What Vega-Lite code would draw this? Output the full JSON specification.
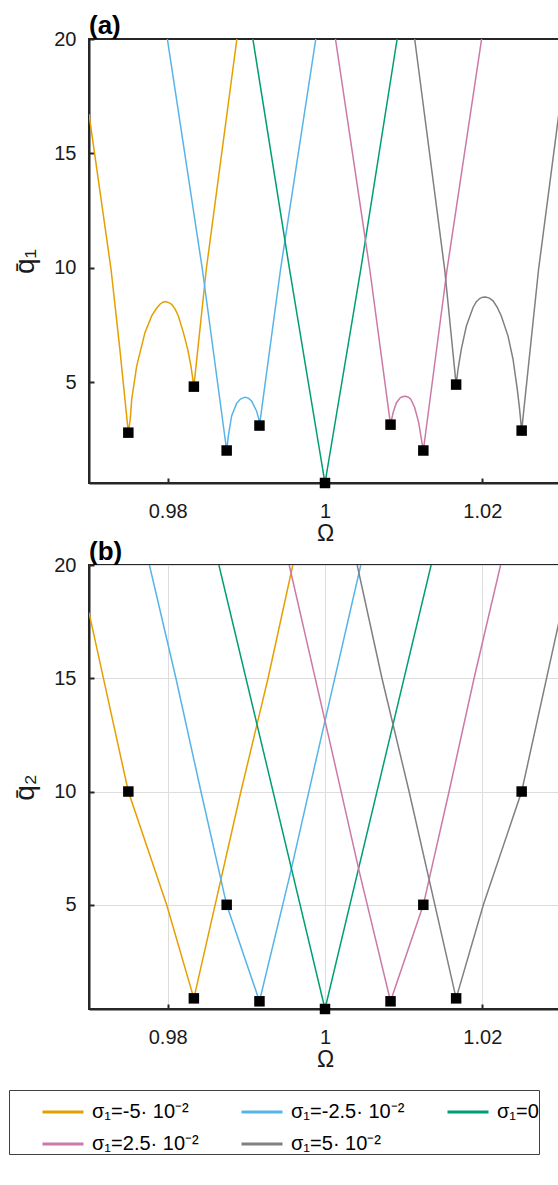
{
  "$schema": "https://vega.github.io/schema/vega-lite/v6.json",
  "background": "white",
  "padding": {"left": 8, "top": 12, "right": 0, "bottom": 10},
  "bounds": "flush",
  "spacing": 82,
  "config": {
    "font": "Liberation Sans",
    "view": {"stroke": "#262626", "strokeWidth": 2},
    "axis": {
      "domainColor": "#262626", "domainWidth": 2,
      "tickColor": "#262626", "tickWidth": 2, "tickSize": -5,
      "labelFont": "Liberation Sans", "labelFontSize": 20, "labelColor": "#1a1a1a",
      "titleFont": "Liberation Sans", "titleFontSize": 23, "titleFontWeight": "normal", "titleColor": "#1a1a1a",
      "gridColor": "#dddddd", "gridWidth": 1
    },
    "title": {"anchor": "start", "frame": "group", "font": "Liberation Sans", "fontSize": 26, "fontWeight": "bold", "color": "black", "offset": -10},
    "legend": {
      "orient": "none", "legendX": -80, "legendY": 1051,
      "direction": "horizontal", "columns": 3,
      "symbolType": "stroke", "symbolSize": 1681, "symbolStrokeWidth": 3, "symbolOffset": 32,
      "labelFont": "Liberation Sans", "labelFontSize": 20, "labelColor": "black", "labelOffset": 7,
      "columnPadding": 9, "rowPadding": -2, "padding": 0,
      "strokeColor": "#404040", "fillColor": "white"
    }
  },
  "datasets": {
    "curves": [
      {"p": "a", "s": -5, "w": 0.970, "q": 16.72},
      {"p": "a", "s": -5, "w": 0.9728, "q": 9.94},
      {"p": "a", "s": -5, "w": 0.97392, "q": 6.45},
      {"p": "a", "s": -5, "w": 0.975, "q": 2.80},
      {"p": "a", "s": -5, "w": 0.97524, "q": 3.38},
      {"p": "a", "s": -5, "w": 0.97543, "q": 4.26},
      {"p": "a", "s": -5, "w": 0.97606, "q": 5.71},
      {"p": "a", "s": -5, "w": 0.97712, "q": 7.18},
      {"p": "a", "s": -5, "w": 0.97797, "q": 7.90},
      {"p": "a", "s": -5, "w": 0.9785, "q": 8.19},
      {"p": "a", "s": -5, "w": 0.97902, "q": 8.41},
      {"p": "a", "s": -5, "w": 0.97934, "q": 8.49},
      {"p": "a", "s": -5, "w": 0.97966, "q": 8.53},
      {"p": "a", "s": -5, "w": 0.98008, "q": 8.49},
      {"p": "a", "s": -5, "w": 0.98051, "q": 8.41},
      {"p": "a", "s": -5, "w": 0.98095, "q": 8.20},
      {"p": "a", "s": -5, "w": 0.98136, "q": 7.90},
      {"p": "a", "s": -5, "w": 0.98199, "q": 7.18},
      {"p": "a", "s": -5, "w": 0.98254, "q": 6.45},
      {"p": "a", "s": -5, "w": 0.98296, "q": 5.71},
      {"p": "a", "s": -5, "w": 0.98333, "q": 4.81},
      {"p": "a", "s": -5, "w": 0.98491, "q": 9.94},
      {"p": "a", "s": -5, "w": 0.9888, "q": 20},

      {"p": "a", "s": -2.5, "w": 0.97996, "q": 20},
      {"p": "a", "s": -2.5, "w": 0.98441, "q": 9.94},
      {"p": "a", "s": -2.5, "w": 0.9875, "q": 2.02},
      {"p": "a", "s": -2.5, "w": 0.98771, "q": 2.65},
      {"p": "a", "s": -2.5, "w": 0.98813, "q": 3.53},
      {"p": "a", "s": -2.5, "w": 0.98876, "q": 4.08},
      {"p": "a", "s": -2.5, "w": 0.98925, "q": 4.27},
      {"p": "a", "s": -2.5, "w": 0.98982, "q": 4.35},
      {"p": "a", "s": -2.5, "w": 0.99025, "q": 4.31},
      {"p": "a", "s": -2.5, "w": 0.99067, "q": 4.18},
      {"p": "a", "s": -2.5, "w": 0.9913, "q": 3.75},
      {"p": "a", "s": -2.5, "w": 0.99159, "q": 3.38},
      {"p": "a", "s": -2.5, "w": 0.99167, "q": 3.11},
      {"p": "a", "s": -2.5, "w": 0.99435, "q": 9.94},
      {"p": "a", "s": -2.5, "w": 0.99883, "q": 20},

      {"p": "a", "s": 0, "w": 0.99083, "q": 20},
      {"p": "a", "s": 0, "w": 0.99549, "q": 9.94},
      {"p": "a", "s": 0, "w": 1.0, "q": 0.6},
      {"p": "a", "s": 0, "w": 1.00455, "q": 9.94},
      {"p": "a", "s": 0, "w": 1.00917, "q": 20},

      {"p": "a", "s": 2.5, "w": 1.00133, "q": 20},
      {"p": "a", "s": 2.5, "w": 1.00569, "q": 9.94},
      {"p": "a", "s": 2.5, "w": 1.00833, "q": 3.15},
      {"p": "a", "s": 2.5, "w": 1.00866, "q": 3.68},
      {"p": "a", "s": 2.5, "w": 1.00908, "q": 4.11},
      {"p": "a", "s": 2.5, "w": 1.00959, "q": 4.33},
      {"p": "a", "s": 2.5, "w": 1.00992, "q": 4.38},
      {"p": "a", "s": 2.5, "w": 1.01026, "q": 4.39},
      {"p": "a", "s": 2.5, "w": 1.0106, "q": 4.35},
      {"p": "a", "s": 2.5, "w": 1.0109, "q": 4.26},
      {"p": "a", "s": 2.5, "w": 1.0114, "q": 3.90},
      {"p": "a", "s": 2.5, "w": 1.01191, "q": 3.24},
      {"p": "a", "s": 2.5, "w": 1.01226, "q": 2.51},
      {"p": "a", "s": 2.5, "w": 1.0125, "q": 2.02},
      {"p": "a", "s": 2.5, "w": 1.01552, "q": 9.94},
      {"p": "a", "s": 2.5, "w": 1.01991, "q": 20},

      {"p": "a", "s": 5, "w": 1.0114, "q": 20},
      {"p": "a", "s": 5, "w": 1.01521, "q": 9.94},
      {"p": "a", "s": 5, "w": 1.01667, "q": 4.90},
      {"p": "a", "s": 5, "w": 1.01691, "q": 5.57},
      {"p": "a", "s": 5, "w": 1.01733, "q": 6.45},
      {"p": "a", "s": 5, "w": 1.01797, "q": 7.46},
      {"p": "a", "s": 5, "w": 1.01882, "q": 8.27},
      {"p": "a", "s": 5, "w": 1.01924, "q": 8.52},
      {"p": "a", "s": 5, "w": 1.01966, "q": 8.66},
      {"p": "a", "s": 5, "w": 1.02004, "q": 8.72},
      {"p": "a", "s": 5, "w": 1.02042, "q": 8.73},
      {"p": "a", "s": 5, "w": 1.0209, "q": 8.68},
      {"p": "a", "s": 5, "w": 1.02136, "q": 8.56},
      {"p": "a", "s": 5, "w": 1.0219, "q": 8.27},
      {"p": "a", "s": 5, "w": 1.02241, "q": 7.90},
      {"p": "a", "s": 5, "w": 1.02326, "q": 7.03},
      {"p": "a", "s": 5, "w": 1.0239, "q": 6.01},
      {"p": "a", "s": 5, "w": 1.02444, "q": 4.70},
      {"p": "a", "s": 5, "w": 1.02474, "q": 3.82},
      {"p": "a", "s": 5, "w": 1.025, "q": 2.89},
      {"p": "a", "s": 5, "w": 1.02715, "q": 9.94},
      {"p": "a", "s": 5, "w": 1.02978, "q": 16.87},
      {"p": "a", "s": 5, "w": 1.03, "q": 17.0},

      {"p": "b", "s": -5, "w": 0.970, "q": 17.9},
      {"p": "b", "s": -5, "w": 0.975, "q": 10.0},
      {"p": "b", "s": -5, "w": 0.97987, "q": 5.0},
      {"p": "b", "s": -5, "w": 0.98333, "q": 0.87},
      {"p": "b", "s": -5, "w": 0.98931, "q": 10.0},
      {"p": "b", "s": -5, "w": 0.99276, "q": 15.0},
      {"p": "b", "s": -5, "w": 0.99591, "q": 20},

      {"p": "b", "s": -2.5, "w": 0.97768, "q": 20},
      {"p": "b", "s": -2.5, "w": 0.98105, "q": 15},
      {"p": "b", "s": -2.5, "w": 0.98423, "q": 10},
      {"p": "b", "s": -2.5, "w": 0.9875, "q": 5.0},
      {"p": "b", "s": -2.5, "w": 0.99167, "q": 0.74},
      {"p": "b", "s": -2.5, "w": 0.99562, "q": 6.43},
      {"p": "b", "s": -2.5, "w": 0.99956, "q": 12.46},
      {"p": "b", "s": -2.5, "w": 1.00455, "q": 20},

      {"p": "b", "s": 0, "w": 0.98651, "q": 20},
      {"p": "b", "s": 0, "w": 1.0, "q": 0.4},
      {"p": "b", "s": 0, "w": 1.01349, "q": 20},

      {"p": "b", "s": 2.5, "w": 0.99545, "q": 20},
      {"p": "b", "s": 2.5, "w": 1.00044, "q": 12.46},
      {"p": "b", "s": 2.5, "w": 1.00438, "q": 6.43},
      {"p": "b", "s": 2.5, "w": 1.00833, "q": 0.74},
      {"p": "b", "s": 2.5, "w": 1.0125, "q": 5.0},
      {"p": "b", "s": 2.5, "w": 1.01577, "q": 10},
      {"p": "b", "s": 2.5, "w": 1.01895, "q": 15},
      {"p": "b", "s": 2.5, "w": 1.02232, "q": 20},

      {"p": "b", "s": 5, "w": 1.00409, "q": 20},
      {"p": "b", "s": 5, "w": 1.00724, "q": 15},
      {"p": "b", "s": 5, "w": 1.01069, "q": 10},
      {"p": "b", "s": 5, "w": 1.01667, "q": 0.87},
      {"p": "b", "s": 5, "w": 1.02013, "q": 5.0},
      {"p": "b", "s": 5, "w": 1.025, "q": 10.0},
      {"p": "b", "s": 5, "w": 1.03, "q": 17.9}
    ],
    "minima": [
      {"p": "a", "w": 0.975, "q": 2.80},
      {"p": "a", "w": 0.98333, "q": 4.81},
      {"p": "a", "w": 0.9875, "q": 2.02},
      {"p": "a", "w": 0.99167, "q": 3.11},
      {"p": "a", "w": 1.0, "q": 0.6},
      {"p": "a", "w": 1.00833, "q": 3.15},
      {"p": "a", "w": 1.0125, "q": 2.02},
      {"p": "a", "w": 1.01667, "q": 4.90},
      {"p": "a", "w": 1.025, "q": 2.89},
      {"p": "b", "w": 0.975, "q": 10.0},
      {"p": "b", "w": 0.98333, "q": 0.87},
      {"p": "b", "w": 0.9875, "q": 5.0},
      {"p": "b", "w": 0.99167, "q": 0.74},
      {"p": "b", "w": 1.0, "q": 0.4},
      {"p": "b", "w": 1.00833, "q": 0.74},
      {"p": "b", "w": 1.0125, "q": 5.0},
      {"p": "b", "w": 1.01667, "q": 0.87},
      {"p": "b", "w": 1.025, "q": 10.0}
    ]
  },
  "resolve": {"scale": {"color": "shared"}, "legend": {"color": "shared"}},
  "vconcat": [
    {
      "title": {"text": "(a)"},
      "width": 472,
      "height": 444,
      "layer": [
        {
          "data": {"name": "curves"},
          "transform": [{"filter": "datum.p == 'a'"}],
          "mark": {"type": "line", "strokeWidth": 1.5, "clip": true},
          "encoding": {
            "x": {"field": "w", "type": "quantitative",
                  "scale": {"domain": [0.97, 1.03], "nice": false, "zero": false},
                  "axis": {"values": [0.98, 1, 1.02], "format": "~g", "title": "Ω", "grid": false, "labelPadding": 23, "titlePadding": 1}},
            "y": {"field": "q", "type": "quantitative",
                  "scale": {"domain": [0.6, 20], "nice": false, "zero": false},
                  "axis": {"values": [5, 10, 15, 20], "title": "q̄₁", "titleFontSize": 28, "grid": false, "labelPadding": 18, "titlePadding": 14}},
            "color": {"field": "s", "type": "nominal",
                      "scale": {"domain": [-5, -2.5, 0, 2.5, 5], "range": ["#E69F00", "#56B4E9", "#009E73", "#CC79A7", "#808080"]},
                      "legend": {"title": null, "labelExpr": "datum.value == 0 ? 'σ₁=0' : 'σ₁=' + datum.value + '· 10⁻²'"}}
          }
        },
        {
          "data": {"name": "minima"},
          "transform": [{"filter": "datum.p == 'a'"}],
          "mark": {"type": "point", "shape": "square", "filled": true, "size": 110, "color": "black", "opacity": 1},
          "encoding": {
            "x": {"field": "w", "type": "quantitative"},
            "y": {"field": "q", "type": "quantitative"}
          }
        }
      ]
    },
    {
      "title": {"text": "(b)"},
      "width": 472,
      "height": 444,
      "layer": [
        {
          "data": {"name": "curves"},
          "transform": [{"filter": "datum.p == 'b'"}],
          "mark": {"type": "line", "strokeWidth": 1.5, "clip": true},
          "encoding": {
            "x": {"field": "w", "type": "quantitative",
                  "scale": {"domain": [0.97, 1.03], "nice": false, "zero": false},
                  "axis": {"values": [0.98, 1, 1.02], "format": "~g", "title": "Ω", "grid": true, "labelPadding": 23, "titlePadding": 1}},
            "y": {"field": "q", "type": "quantitative",
                  "scale": {"domain": [0.4, 20], "nice": false, "zero": false},
                  "axis": {"values": [5, 10, 15, 20], "title": "q̄₂", "titleFontSize": 28, "grid": true, "labelPadding": 18, "titlePadding": 14}},
            "color": {"field": "s", "type": "nominal",
                      "scale": {"domain": [-5, -2.5, 0, 2.5, 5], "range": ["#E69F00", "#56B4E9", "#009E73", "#CC79A7", "#808080"]},
                      "legend": {"title": null, "labelExpr": "datum.value == 0 ? 'σ₁=0' : 'σ₁=' + datum.value + '· 10⁻²'"}}
          }
        },
        {
          "data": {"name": "minima"},
          "transform": [{"filter": "datum.p == 'b'"}],
          "mark": {"type": "point", "shape": "square", "filled": true, "size": 110, "color": "black", "opacity": 1},
          "encoding": {
            "x": {"field": "w", "type": "quantitative"},
            "y": {"field": "q", "type": "quantitative"}
          }
        }
      ]
    }
  ]
}
